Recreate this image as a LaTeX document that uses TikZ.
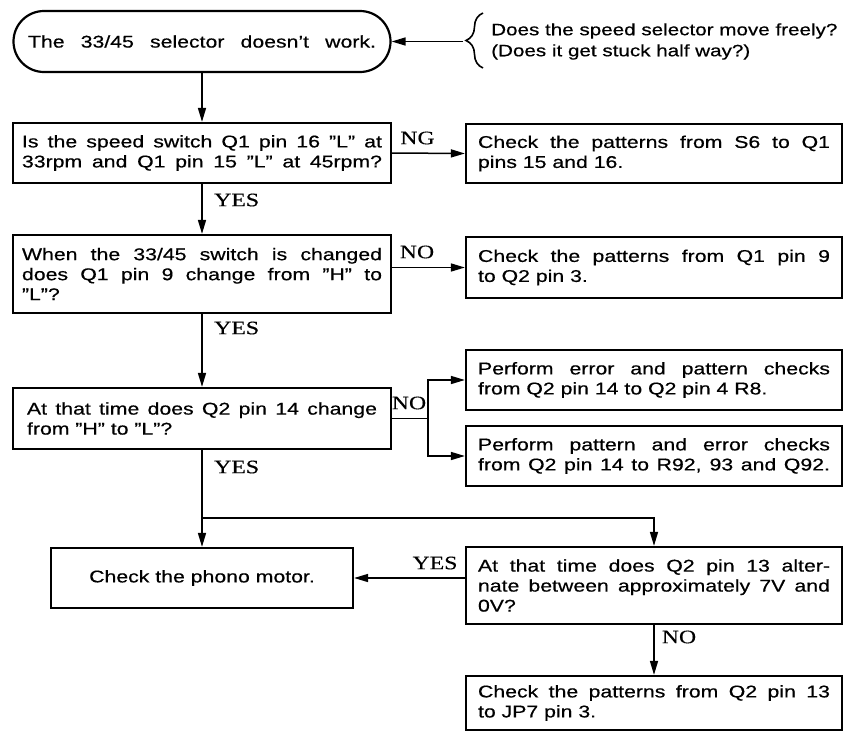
\documentclass[tikz,border=0pt]{standalone}
\usepackage{fontspec}
\newfontfamily\boxfont[FakeStretch=1.25,FakeBold=0.5]{Liberation Sans}
\newfontfamily\lblfont[FakeStretch=1.25,FakeBold=0.3]{Liberation Serif}
\usetikzlibrary{arrows.meta,decorations.pathreplacing,calc}
\tolerance=9999
\hyphenpenalty=10000
\hbadness=10000
\begin{document}
\begin{tikzpicture}[x=1pt,y=-1pt,
  box/.style={draw, line width=2.2pt, inner sep=0pt, font=\boxfont\fontsize{17}{20}\selectfont, align=justify},
  lbox/.style={box, minimum width=378pt},
  rbox/.style={box, minimum width=376pt, text width=352pt},
  conn/.style={line width=1.5pt},
  arr/.style={conn,-{Triangle[length=14pt,width=8pt]}},
  lbl/.style={font=\lblfont\fontsize{19}{22}\selectfont, inner sep=0pt}]
\useasboundingbox (0,0) rectangle (844,731);
\fill[white] (0,0) rectangle (844,731);

% start
\node[box, rounded corners=30.5pt, minimum width=377pt, minimum height=61pt, align=center] (start) at (202,41.5)
  {\makebox[348pt][s]{The 33/45 selector doesn’t work.}};
\node[anchor=west, font=\boxfont\fontsize{16.5}{21}\selectfont, align=left, inner sep=0pt] (qq) at (491,41.5)
  {Does the speed selector move freely?\\(Does it get stuck half way?)};
\draw[line width=1.6pt, decorate, decoration={brace, amplitude=17pt}] (483,68) -- (483,13);
\coordinate (bt) at (463,41.5);
\draw[arr] (bt) -- (start.east);

% left column
\node[lbox, minimum height=60pt, text width=360pt] (q1) at (202,153)
  {Is the speed switch Q1 pin 16 ”L” at\linebreak 33rpm and Q1 pin 15 ”L” at 45rpm?\parfillskip=0pt\par};
\node[lbox, minimum height=78pt, text width=360pt] (q2) at (202,274)
  {When the 33/45 switch is changed\linebreak does Q1 pin 9 change from ”H” to\linebreak ”L”?};
\node[lbox, minimum height=61pt, text width=350pt] (q3) at (202,418.5)
  {At that time does Q2 pin 14 change\linebreak from ”H” to ”L”?};
\node[box, minimum width=302pt, minimum height=60pt, align=center] (ph) at (202,578)
  {Check the phono motor.};

% right column
\node[rbox, minimum height=59pt] (n1) at (654,153.5)
  {Check the patterns from S6 to Q1\linebreak pins 15 and 16.};
\node[rbox, minimum height=61pt] (n2) at (654,267.5)
  {Check the patterns from Q1 pin 9\linebreak to Q2 pin 3.};
\node[rbox, minimum height=60pt] (fa) at (654,380)
  {Perform error and pattern checks\linebreak from Q2 pin 14 to Q2 pin 4 R8.};
\node[rbox, minimum height=60pt] (fb) at (654,456)
  {Perform pattern and error checks\linebreak from Q2 pin 14 to R92, 93 and Q92.\parfillskip=0pt\par};
\node[rbox, minimum height=77pt] (q4) at (654,585.5)
  {At that time does Q2 pin 13 alter-\linebreak nate between approximately 7V and\linebreak 0V?};
\node[rbox, minimum height=54pt] (fd) at (654,703)
  {Check the patterns from Q2 pin 13\linebreak to JP7 pin 3.};

% connectors
\draw[arr] (start.south) -- (q1.north);
\draw[arr] (q1.south) -- (q2.north);
\draw[arr] (q2.south) -- (q3.north);
\coordinate (jn) at (202,518);
\draw[conn] (q3.south) -- (jn);
\draw[arr] (jn) -- (ph.north);
\draw[arr] (jn) -| (q4.north);
\draw[arr] (q1.east) -- (n1.west);
\draw[arr] (q2.east |- n2.west) -- (n2.west);
\coordinate (br) at (428,418.5);
\draw[conn] (q3.east) -- (br);
\draw[arr] (br) |- (fa.west);
\draw[arr] (br) |- (fb.west);
\draw[arr] (q4.west |- ph.east) -- (ph.east);
\draw[arr] (q4.south) -- (fd.north);

% labels
\node[lbl] (ng1) at (417.5,138) {NG};
\node[lbl] (no1) at (417,252) {NO};
\node[lbl, anchor=west] (yes1) at (214,200) {YES};
\node[lbl, anchor=west] (yes2) at (214,328) {YES};
\node[lbl] (no2) at (409,403) {NO};
\node[lbl, anchor=west] (yes3) at (214,467) {YES};
\node[lbl] (yes4) at (435,563) {YES};
\node[lbl] (no3) at (679,637) {NO};
\end{tikzpicture}
\end{document}
